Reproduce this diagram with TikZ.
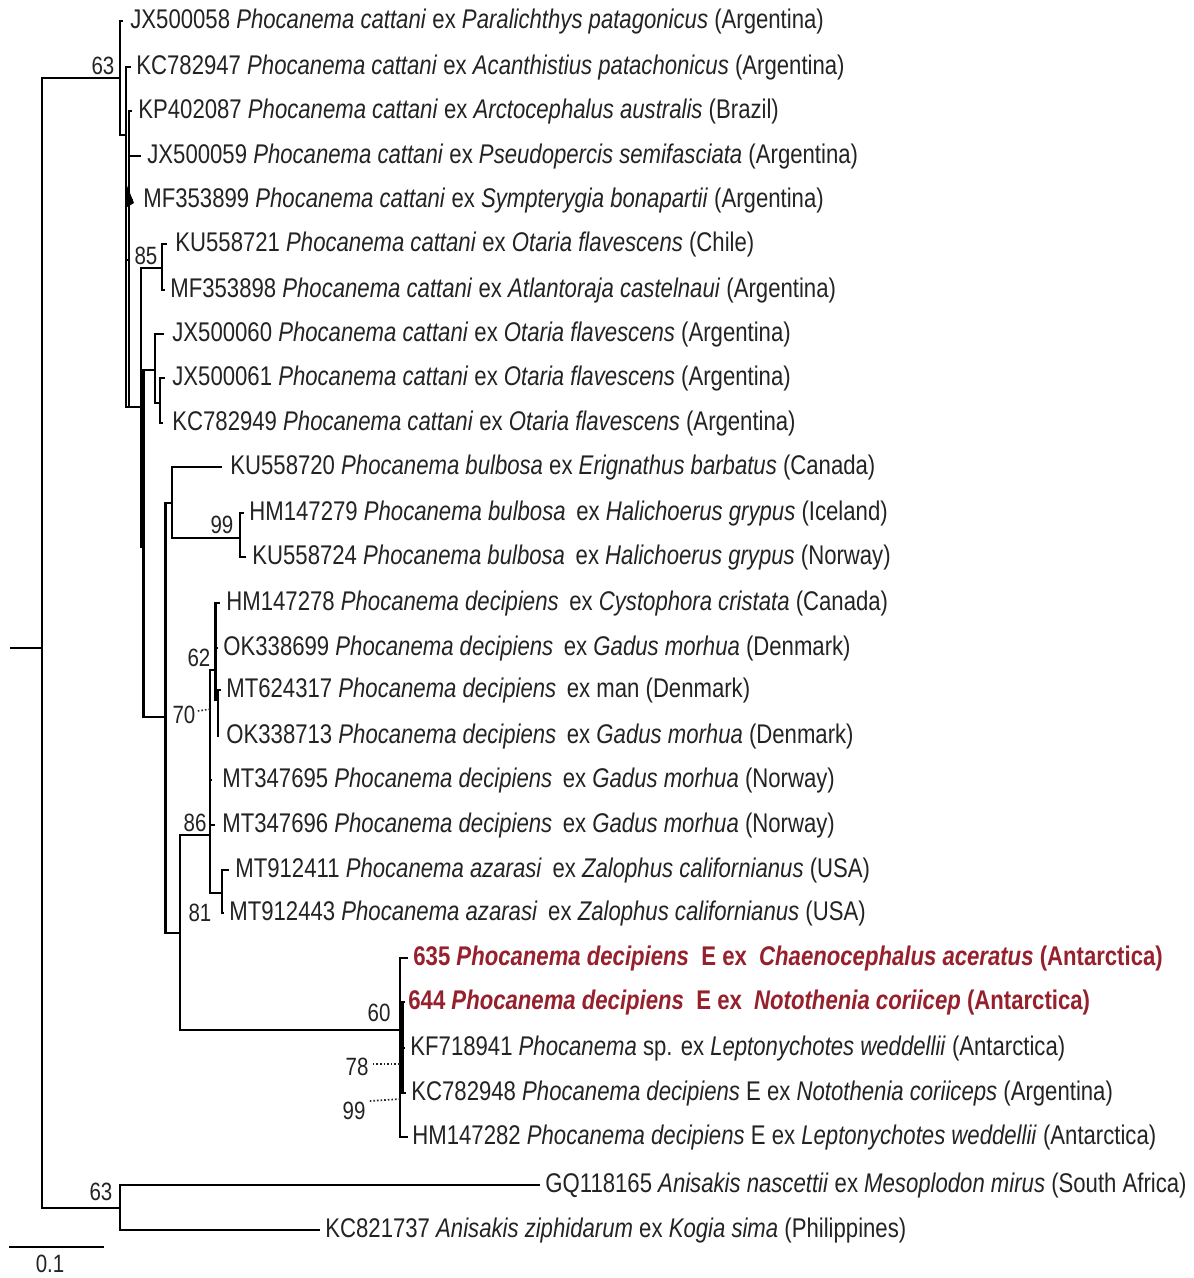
\documentclass[tikz,border=0pt]{standalone}
\usepackage{fontspec}
\setmainfont{Liberation Sans}[FakeStretch=0.82]
\usepackage{xcolor}
\usepackage{tikz}
\definecolor{txtgray}{RGB}{35,35,35}
\definecolor{hlred}{RGB}{150,32,44}

\tikzset{
  branch/.style={line width=1.45pt, draw=black},
  taxon/.style={anchor=mid west, inner sep=0pt, yshift=-1.3pt, text=txtgray, font=\fontsize{13.5}{16}\selectfont},
  boot/.style={inner sep=0pt, text=txtgray, font=\fontsize{12.5}{14}\selectfont},
  dots/.style={densely dotted, line width=0.8pt, draw=txtgray}
}

\begin{document}
\begin{tikzpicture}[x=0.5pt,y=-0.5pt]
\useasboundingbox (0,0) rectangle (1193,1278);
\fill[white] (0,0) rectangle (1193,1278);

% internal nodes
\coordinate (base) at (10,648);
\coordinate (nR) at (42,648);
\coordinate (nA) at (120,78);
\coordinate (nB) at (126,135);
\coordinate (nB2) at (129,260);
\coordinate (nC) at (141,407);
\coordinate (nC2) at (143.5,547);
\coordinate (n85) at (162,268);
\coordinate (nJ) at (155,370);
\coordinate (nJ2) at (160,403);
\coordinate (nE) at (165.5,717);
\coordinate (nBul) at (172,503);
\coordinate (n99) at (240,538);
\coordinate (nF) at (180,933);
\coordinate (n86) at (210,835);
\coordinate (nDec) at (215.5,670);
\coordinate (nDec2) at (218,700);
\coordinate (n81) at (222,893);
\coordinate (nAnt) at (400,1030);
\coordinate (nAnt2) at (402.5,1050);
\coordinate (nO) at (120,1208);

\foreach \p/\c in {base/nR, nR/nA, nR/nO, nA/nB, nB/nB2, nB/nC, nB2/nC, nC/n85, nC/nC2,
  nC2/nJ, nC2/nE, nJ/nJ2, nE/nBul, nE/nF, nBul/n99, nF/n86, nF/nAnt, n86/nDec,
  nDec/nDec2, n86/n81, nAnt/nAnt2}
  \draw[branch] (\p) |- (\c);

% tips
\foreach \p/\t/\x/\y/\lx/\txt in {
  nA/1/123/21/130/{JX500058 \textit{Phocanema cattani} ex \textit{Paralichthys patagonicus} (Argentina)},
  nB/2/131/67/136/{KC782947 \textit{Phocanema cattani} ex \textit{Acanthistius patachonicus} (Argentina)},
  nB2/3/132/111/138/{KP402087 \textit{Phocanema cattani} ex \textit{Arctocephalus australis} (Brazil)},
  nB2/4/141/156/147/{JX500059 \textit{Phocanema cattani} ex \textit{Pseudopercis semifasciata} (Argentina)},
  nB2/5/133/200/143/{MF353899 \textit{Phocanema cattani} ex \textit{Sympterygia bonapartii} (Argentina)},
  n85/6/167/244/175/{KU558721 \textit{Phocanema cattani} ex \textit{Otaria flavescens} (Chile)},
  n85/7/165/290/170/{MF353898 \textit{Phocanema cattani} ex \textit{Atlantoraja castelnaui} (Argentina)},
  nJ/8/164/334/172/{JX500060 \textit{Phocanema cattani} ex \textit{Otaria flavescens} (Argentina)},
  nJ2/9/165/378/172/{JX500061 \textit{Phocanema cattani} ex \textit{Otaria flavescens} (Argentina)},
  nJ2/10/163/423/172/{KC782949 \textit{Phocanema cattani} ex \textit{Otaria flavescens} (Argentina)},
  nBul/11/222/467/230/{KU558720 \textit{Phocanema bulbosa} ex \textit{Erignathus barbatus} (Canada)},
  n99/12/244/513/249/{HM147279 \textit{Phocanema bulbosa}\, ex \textit{Halichoerus grypus} (Iceland)},
  n99/13/246/557/252/{KU558724 \textit{Phocanema bulbosa}\, ex \textit{Halichoerus grypus} (Norway)},
  nDec/14/220/603/226/{HM147278 \textit{Phocanema decipiens}\, ex \textit{Cystophora cristata} (Canada)},
  nDec/15/218/648/223/{OK338699 \textit{Phocanema decipiens}\, ex \textit{Gadus morhua} (Denmark)},
  nDec2/16/221/690/226/{MT624317 \textit{Phocanema decipiens}\, ex man (Denmark)},
  nDec2/17/219/736/226/{OK338713 \textit{Phocanema decipiens}\, ex \textit{Gadus morhua} (Denmark)},
  n86/18/212/780/222/{MT347695 \textit{Phocanema decipiens}\, ex \textit{Gadus morhua} (Norway)},
  n86/19/215/825/222/{MT347696 \textit{Phocanema decipiens}\, ex \textit{Gadus morhua} (Norway)},
  n81/20/229/870/235/{MT912411 \textit{Phocanema azarasi}\, ex \textit{Zalophus californianus} (USA)},
  n81/21/224/913/229/{MT912443 \textit{Phocanema azarasi}\, ex \textit{Zalophus californianus} (USA)},
  nAnt/22/408/958/413/{\bfseries\color{hlred}635 \textit{Phocanema decipiens}\ \ E ex\ \ \textit{Chaenocephalus aceratus} (Antarctica)},
  nAnt2/23/405/1002/408/{\bfseries\color{hlred}644 \textit{Phocanema decipiens}\ \ E ex\ \ \textit{Notothenia coriicep} (Antarctica)},
  nAnt2/24/405/1048/410/{KF718941 \textit{Phocanema} sp. ex \textit{Leptonychotes weddellii} (Antarctica)},
  nAnt2/25/406/1093/411/{KC782948 \textit{Phocanema decipiens} E ex \textit{Notothenia coriiceps} (Argentina)},
  nAnt/26/408/1137/412/{HM147282 \textit{Phocanema decipiens} E ex \textit{Leptonychotes weddellii} (Antarctica)},
  nO/27/540/1185/545/{GQ118165 \textit{Anisakis nascettii} ex \textit{Mesoplodon mirus} (South Africa)},
  nO/28/320/1230/325/{KC821737 \textit{Anisakis ziphidarum} ex \textit{Kogia sima} (Philippines)}} {
  \coordinate (t\t) at (\x,\y);
  \draw[branch] (\p) |- (t\t);
  \node[taxon] (l\t) at (\lx,\y) {\txt};
}
\fill (125.5,182) -- (134,203) -- (125.5,208) -- cycle;

% bootstrap values
\node[boot] (b63a) at (103,66) {63};
\node[boot] (b85) at (146,256) {85};
\node[boot] (b99a) at (222,525) {99};
\node[boot] (b62) at (199,658) {62};
\node[boot] (b70) at (184,715) {70};
\node[boot] (b86) at (195,823) {86};
\node[boot] (b81) at (200,913) {81};
\node[boot] (b60) at (379,1013) {60};
\node[boot] (b78) at (357,1067) {78};
\node[boot] (b99b) at (354,1111) {99};
\node[boot] (b63b) at (101,1192) {63};
\coordinate (d70) at (211,709);
\coordinate (d78) at (400,1064);
\coordinate (d99) at (400,1099);
\draw[dots] (b70.east) ++(2,-4) -- (d70);
\draw[dots] (b78.east) ++(4,-3) -- (d78);
\draw[dots] (b99b.east) ++(4,-10) -- (d99);

% scale bar
\coordinate (sb1) at (9,1247);
\coordinate (sb2) at (104,1247);
\draw[branch] (sb1) -- (sb2);
\node[boot] (sbl) at (50,1264) {0.1};
\end{tikzpicture}
\end{document}
